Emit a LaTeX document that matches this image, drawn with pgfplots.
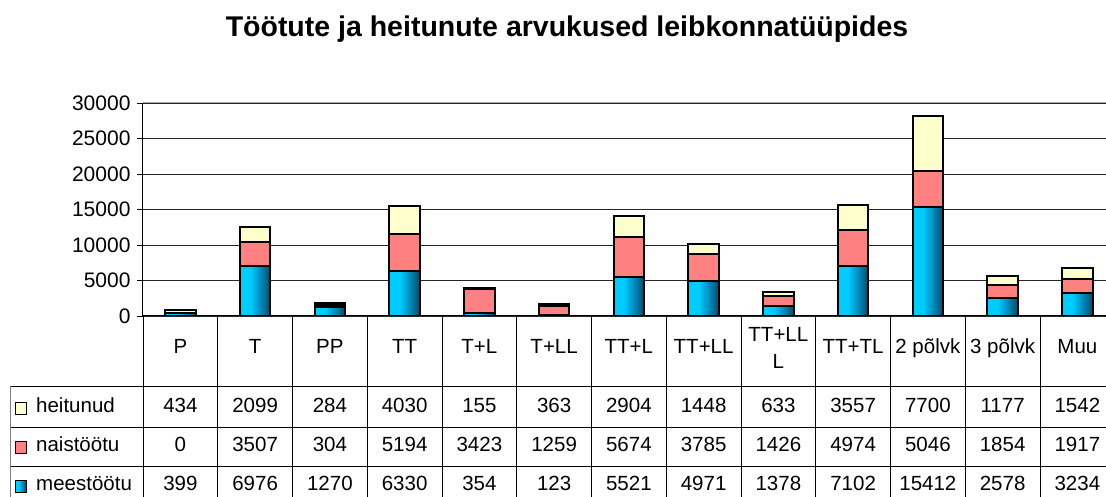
\documentclass[border=0pt]{standalone}
\usepackage{pgfplots}
\pgfplotsset{compat=1.18}
\usepackage{pgfplotstable}
\usepackage{fontspec}
\setmainfont{Liberation Sans}
\definecolor{heit}{RGB}{255,255,204}
\definecolor{nais}{RGB}{255,128,128}
\definecolor{cyA}{RGB}{0,204,255}
\definecolor{cyB}{RGB}{0,140,190}
\definecolor{cyC}{RGB}{0,85,115}
\pgfdeclarehorizontalshading{meesshade}{100bp}{color(0bp)=(cyA); color(42bp)=(cyA); color(58bp)=(cyB); color(72bp)=(cyC); color(100bp)=(cyC)}

\pgfplotstableread{
x mees nais heit
0 399 0 434
1 6976 3507 2099
2 1270 304 284
3 6330 5194 4030
4 354 3423 155
5 123 1259 363
6 5521 5674 2904
7 4971 3785 1448
8 1378 1426 633
9 7102 4974 3557
10 15412 5046 7700
11 2578 1854 1177
12 3234 1917 1542
}\datatable

\pgfplotsset{commonaxis/.style={at={(143pt,181pt)}, anchor=south west, scale only axis,
  width=971.75pt, height=213pt,
  xmin=-0.5, xmax=12.5, ymin=0, ymax=30000,
  bar width=0.41}}

\begin{document}
\begin{tikzpicture}
\useasboundingbox (0pt,0pt) rectangle (1106pt,497pt);
\clip (0pt,0pt) rectangle (1106pt,497pt);
\fill[white] (0pt,0pt) rectangle (1106pt,497pt);
\node[font=\fontsize{28.5}{30}\selectfont\bfseries, anchor=base, inner sep=0] at (567pt,460pt) {Töötute ja heitunute arvukused leibkonnatüüpides};

\begin{axis}[commonaxis,
  ybar stacked,
  xtick=\empty, ytick={0,5000,...,30000},
  scaled y ticks=false,
  ymajorgrids, grid style={black!85, line width=0.8pt},
  axis x line*=bottom, axis y line*=left,
  axis line style={black, line width=1pt},
  tick style={black, line width=0.8pt}, tick align=outside, major tick length=6pt,
  yticklabel style={font=\fontsize{21}{22}\selectfont, /pgf/number format/assume math mode=true, xshift=-3pt},
  /pgf/number format/1000 sep={},
  every axis plot/.append style={draw=black, line width=2pt}]
\addplot[fill=cyA] table[x=x,y=mees]{\datatable};
\addplot[fill=nais] table[x=x,y=nais]{\datatable};
\addplot[fill=heit] table[x=x,y=heit]{\datatable};
\draw[gray!70, line width=1pt] (rel axis cs:0,1) -- (rel axis cs:1,1);
\end{axis}

% per-bar gradient for meestöötu
\begin{axis}[commonaxis, ybar, bar shift=0pt, hide axis,
  every axis plot/.append style={draw=black, line width=2pt}]
\pgfplotsinvokeforeach{0,...,12}{
  \addplot[shading=meesshade, x filter/.expression={abs(x-#1)<0.1 ? x : nan}] table[x=x,y=mees]{\datatable};
}
\end{axis}

\begin{scope}[x=1pt,y=1pt]
% table grid
\foreach \k in {0,...,13} {
  \draw[black, line width=0.8pt] ({143+74.75*\k},181) -- ({143+74.75*\k},0);
}
\draw[black, line width=0.8pt] (10,111) -- (1115,111);
\draw[black, line width=0.8pt] (10,70) -- (1115,70);
\draw[black, line width=0.8pt] (10,31) -- (1115,31);
\draw[gray, line width=0.8pt] (10,111) -- (10,0);

% category labels
\foreach \lab [count=\i from 0] in {P,T,PP,TT,T+L,T+LL,TT+L,TT+LL,,TT+TL,2 põlvk,3 põlvk,Muu} {
  \node[font=\fontsize{20.5}{22}\selectfont, anchor=base, inner sep=0] at ({143+74.75*(\i+0.5)},143) {\lab};
}
\node[font=\fontsize{20.5}{22}\selectfont, anchor=base, inner sep=0] at ({143+74.75*8.5},155) {TT+LL};
\node[font=\fontsize{20.5}{22}\selectfont, anchor=base, inner sep=0] at ({143+74.75*8.5},128) {L};

% numbers
\foreach \k in {0,...,12} {
  \pgfplotstablegetelem{\k}{heit}\of\datatable
  \node[font=\fontsize{20.5}{22}\selectfont, anchor=base, inner sep=0] at ({143+74.75*(\k+0.5)},84) {\pgfplotsretval};
  \pgfplotstablegetelem{\k}{nais}\of\datatable
  \node[font=\fontsize{20.5}{22}\selectfont, anchor=base, inner sep=0] at ({143+74.75*(\k+0.5)},45) {\pgfplotsretval};
  \pgfplotstablegetelem{\k}{mees}\of\datatable
  \node[font=\fontsize{20.5}{22}\selectfont, anchor=base, inner sep=0] at ({143+74.75*(\k+0.5)},6) {\pgfplotsretval};
}

% legend keys and row labels
\draw[black, line width=1pt, fill=heit] (15,82) rectangle (26,94);
\draw[black, line width=1pt, fill=nais] (15,43) rectangle (26,55);
\draw[black, line width=1pt, shading=meesshade] (15,4) rectangle (26,16);
\node[font=\fontsize{20.5}{22}\selectfont, anchor=base west, inner sep=0] at (36,84) {heitunud};
\node[font=\fontsize{20.5}{22}\selectfont, anchor=base west, inner sep=0] at (36,45) {naistöötu};
\node[font=\fontsize{20.5}{22}\selectfont, anchor=base west, inner sep=0] at (36,6) {meestöötu};
\end{scope}
\end{tikzpicture}
\end{document}
